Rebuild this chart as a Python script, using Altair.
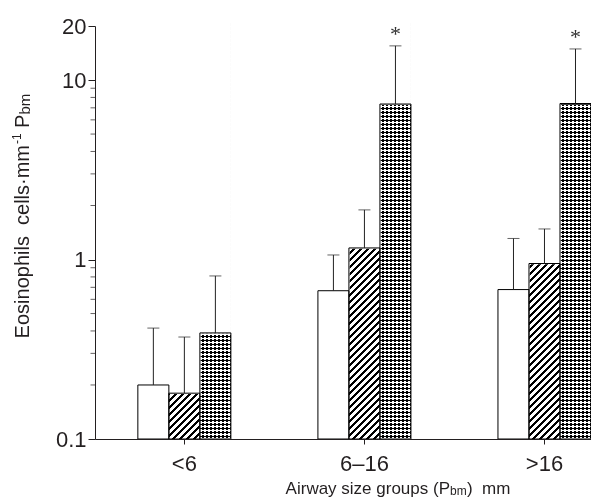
import altair as alt
import pandas as pd

# ---------------- data ----------------
groups = ["<6", "6–16", ">16"]
series = ["Series 1", "Series 2", "Series 3"]
mean_s1 = [0.20, 0.67, 0.68]
mean_s2 = [0.18, 1.16, 0.95]
mean_s3 = [0.39, 7.35, 7.40]
upper_s1 = [0.415, 1.06, 1.31]
upper_s2 = [0.37, 1.89, 1.48]
upper_s3 = [0.81, 15.5, 14.9]
sig_s1 = ["", "", ""]
sig_s2 = ["", "", ""]
sig_s3 = ["", "*", "*"]
y_major = [0.1, 1, 10, 20]
y_minor = [0.2, 0.3, 0.4, 0.5, 0.6, 0.7, 0.8, 0.9, 2, 3, 4, 5, 6, 7, 8, 9]
y_title_parts = ["Eosinophils\u00a0 cells·mm", "-1", "P", "bm"]
x_title_parts = ["Airway size groups (P", "bm", ")\u00a0 mm"]

rows = []
for s, ms, us, ss in zip(series, [mean_s1, mean_s2, mean_s3],
                         [upper_s1, upper_s2, upper_s3], [sig_s1, sig_s2, sig_s3]):
    for g, m, u, sg in zip(groups, ms, us, ss):
        rows.append({"group": g, "series": s, "value": m, "upper": u, "sig": sg})
df = pd.DataFrame(rows)
minor_df = pd.DataFrame({"v": y_minor})

# ---------------- layout / style ----------------
W, H = 496, 413
FONT = "Liberation Sans, Arial, sans-serif"
INK = "#231f20"
BAR_W = 31.0
PAT_EXTRA = 4          # pattern rectangles reach a few px above the plot (hidden by cover)

def stripe_gradient(period, duty, on, off, mirror=False):
    w, h = BAR_W, float(H + PAT_EXTRA)
    c = (w + h) / (w * w + h * h)
    dx, dy = c * w, c * h
    n = int(round((w + h) / period))
    stops = []
    for k in range(n):
        a, b, e = k / n, (k + duty) / n, (k + 1) / n
        stops += [{"offset": a, "color": on}, {"offset": b, "color": on},
                  {"offset": b, "color": off}, {"offset": e, "color": off}]
    if mirror:
        return {"gradient": "linear", "x1": 1, "y1": 0, "x2": 1 - dx, "y2": dy, "stops": stops}
    return {"gradient": "linear", "x1": 0, "y1": 0, "x2": dx, "y2": dy, "stops": stops}

hatch = stripe_gradient(7.0, 0.36, "#000000", "#ffffff")
check_a = stripe_gradient(8.0, 0.5, "#000000", "#ffffff")
check_b = stripe_gradient(8.0, 0.5, "#000000", "#ffffff", mirror=True)

x_enc = alt.X("group:N", sort=groups,
              scale=alt.Scale(domain=groups, paddingInner=0.4833, paddingOuter=0.119, align=1),
              axis=alt.Axis(title=None, labelAngle=0, labelFont=FONT, labelFontSize=22,
                            labelColor=INK, labelBaseline="alphabetic", labelPadding=26,
                            tickSize=5, tickColor=INK, domainColor=INK, domainWidth=1,
                            zindex=1))
xo_enc = alt.XOffset("series:N", sort=series,
                     scale=alt.Scale(domain=series, paddingInner=0, paddingOuter=0))

y_scale = alt.Scale(type="log", domain=[0.1, 20], nice=False)
y_axis_major = alt.Axis(orient="left", title=None, values=y_major, format="~g",
                        labelFont=FONT, labelFontSize=22, labelColor=INK, labelPadding=2,
                        labelOverlap=False, labelFlush=False, grid=False,
                        tickColor=INK, tickSize=7, domainColor=INK, domainWidth=1,
                        zindex=1)

base = alt.Chart(df)

pat_hatch = base.transform_filter(alt.datum.series == series[1]).mark_bar(
    fill=hatch, strokeWidth=0, yOffset=-PAT_EXTRA).encode(
    x=x_enc, xOffset=xo_enc,
    y=alt.Y(datum=20, scale=y_scale, axis=y_axis_major), y2=alt.datum(0.1))

pat_check_a = base.transform_filter(alt.datum.series == series[2]).mark_bar(
    fill=check_a, strokeWidth=0, yOffset=-PAT_EXTRA).encode(
    x=x_enc, xOffset=xo_enc, y=alt.datum(20), y2=alt.datum(0.1))

pat_check_b = base.transform_filter(alt.datum.series == series[2]).mark_bar(
    fill=check_b, strokeWidth=0, blend="difference", yOffset=-PAT_EXTRA).encode(
    x=x_enc, xOffset=xo_enc, y=alt.datum(20), y2=alt.datum(0.1))

cover = base.mark_bar(fill="white", stroke="white", strokeWidth=1.5,
                      y2Offset=-PAT_EXTRA - 2).encode(
    x=x_enc, xOffset=xo_enc, y="value:Q", y2=alt.datum(20))

outline = base.mark_bar(fillOpacity=0, stroke="#000000", strokeWidth=1).encode(
    x=x_enc, xOffset=xo_enc, y="value:Q", y2=alt.datum(0.1))

err = base.mark_rule(color="#222222", strokeWidth=1).encode(
    x=x_enc, xOffset=xo_enc, y="value:Q", y2="upper:Q")

caps = base.mark_tick(color="#222222", thickness=1, size=12).encode(
    x=x_enc, xOffset=xo_enc, y="upper:Q")

stars = base.transform_filter(alt.datum.sig != "").mark_text(
    font="Liberation Serif, DejaVu Serif, serif", fontSize=22, color="#333333",
    baseline="middle", dy=-12).encode(
    x=x_enc, xOffset=xo_enc, y="upper:Q", text="sig:N")

# minor (unlabelled) log ticks on the y axis
minor_ticks = alt.Chart(minor_df).mark_tick(
    orient="horizontal", size=4.5, thickness=1, color=INK).encode(
    y=alt.Y("v:Q"), x=alt.value(-2.25))

one = pd.DataFrame({"k": [0]})

# y axis title (rotated, built from pieces so that super/subscripts are smaller)
YX = -66      # baseline x (plot coords)
YJ = 119      # junction between "mm" and "-1"
yt_a = alt.Chart(one).mark_text(text=y_title_parts[0], font=FONT, fontSize=20, color=INK,
                                angle=270, align="right", baseline="alphabetic").encode(
    x=alt.value(YX), y=alt.value(YJ))
yt_b = alt.Chart(one).mark_text(text=y_title_parts[1], font=FONT, fontSize=12, color=INK,
                                angle=270, align="left", baseline="alphabetic").encode(
    x=alt.value(YX - 8), y=alt.value(YJ - 1))
yt_c = alt.Chart(one).mark_text(text=y_title_parts[2], font=FONT, fontSize=20, color=INK,
                                angle=270, align="left", baseline="alphabetic").encode(
    x=alt.value(YX), y=alt.value(YJ - 17))
yt_d = alt.Chart(one).mark_text(text=y_title_parts[3], font=FONT, fontSize=15, color=INK,
                                angle=270, align="left", baseline="alphabetic").encode(
    x=alt.value(YX + 1), y=alt.value(YJ - 30.5))

# x axis title
XJ = 355
XB = H + 55
xt_a = alt.Chart(one).mark_text(text=x_title_parts[0], font=FONT, fontSize=17, color=INK,
                                align="right", baseline="alphabetic").encode(
    x=alt.value(XJ), y=alt.value(XB))
xt_b = alt.Chart(one).mark_text(text=x_title_parts[1], font=FONT, fontSize=12, color=INK,
                                align="left", baseline="alphabetic").encode(
    x=alt.value(XJ), y=alt.value(XB + 1))
xt_c = alt.Chart(one).mark_text(text=x_title_parts[2], font=FONT, fontSize=17, color=INK,
                                align="left", baseline="alphabetic").encode(
    x=alt.value(XJ + 17), y=alt.value(XB))

chart = alt.layer(
    pat_hatch, pat_check_a, pat_check_b, cover, outline, err, caps, stars, minor_ticks,
    yt_a, yt_b, yt_c, yt_d, xt_a, xt_b, xt_c
).properties(
    width=W, height=H,
    autosize=alt.AutoSizeParams(type="none"),
    padding={"left": 87, "top": 18, "right": 0, "bottom": 63},
    background="white",
).configure_view(stroke=None)

chart.save("out.html", embed_options={"renderer": "svg", "actions": False})
